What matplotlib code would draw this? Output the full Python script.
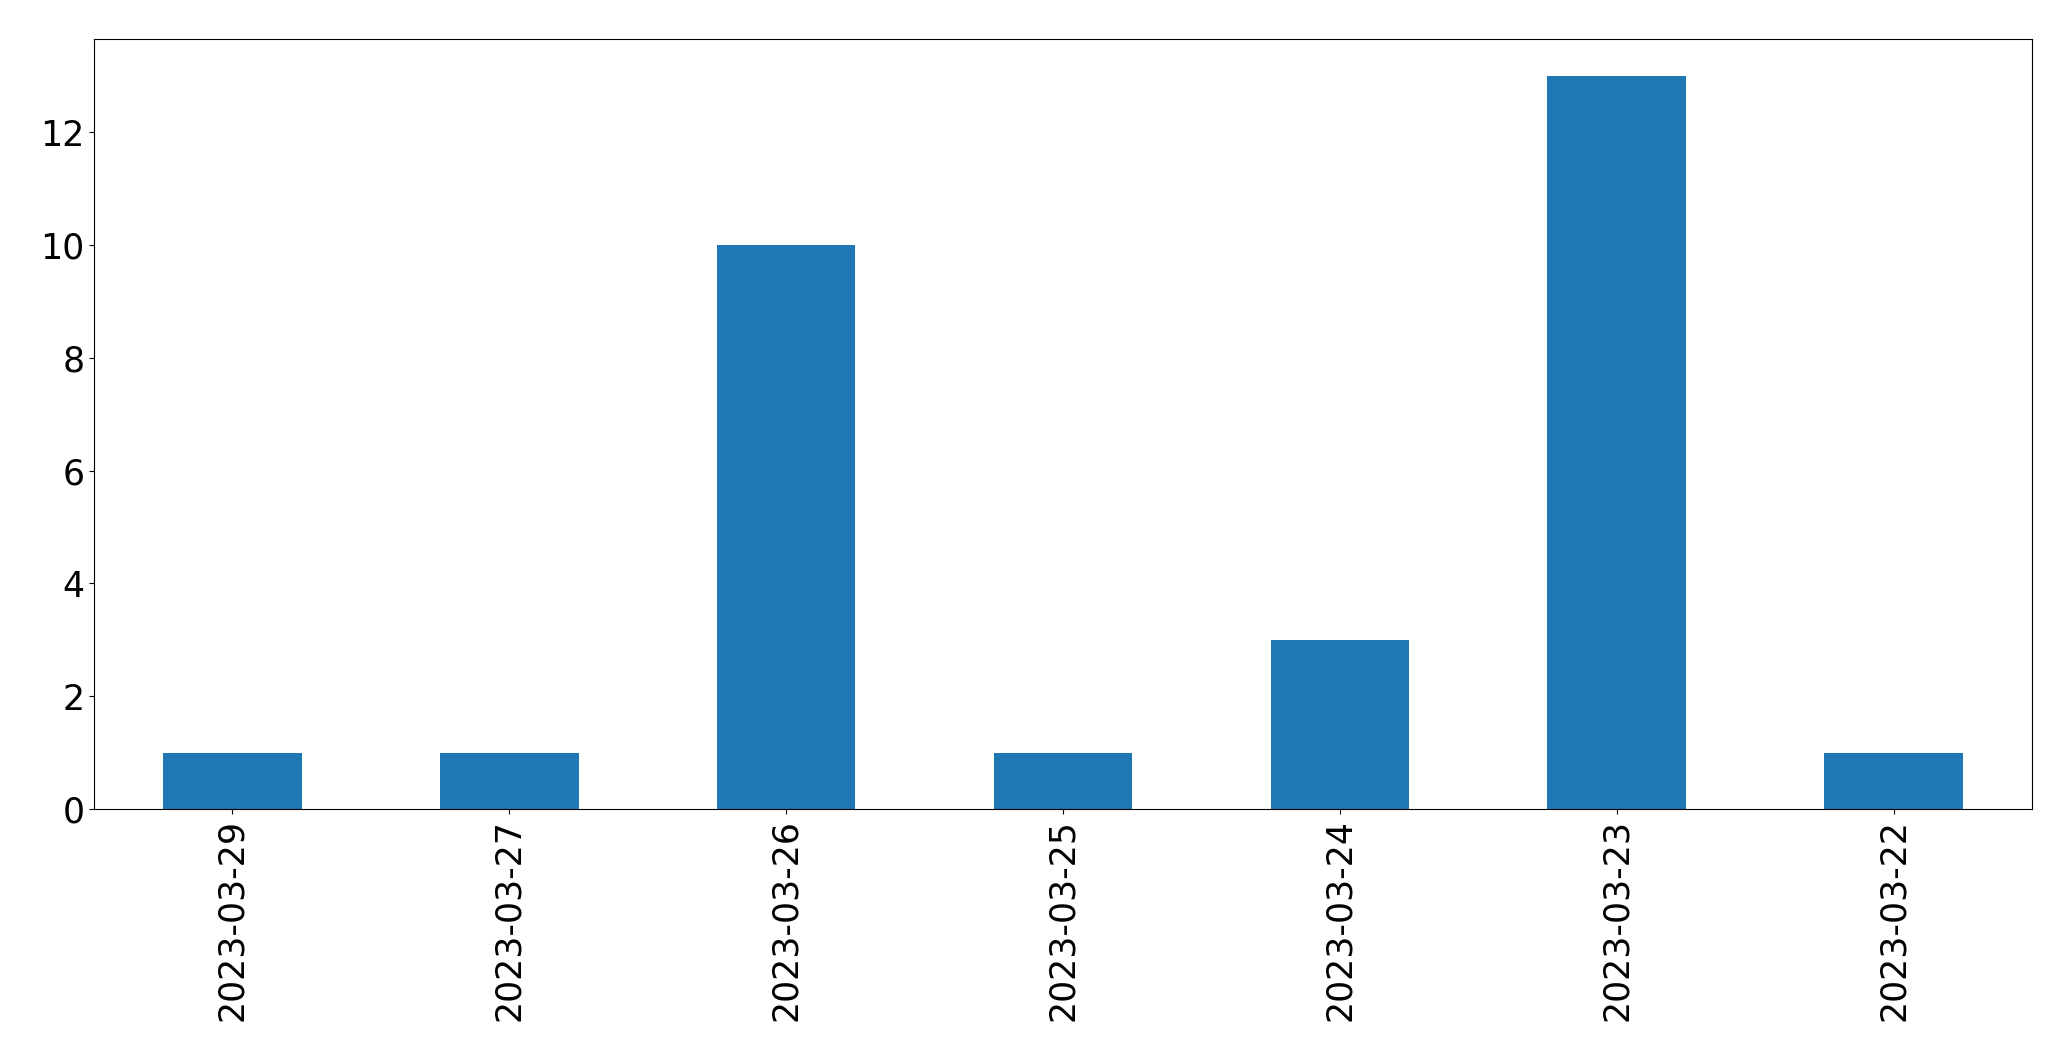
import matplotlib
matplotlib.use("Agg")
import matplotlib.pyplot as plt
import pandas as pd

# counts per day
dates = ["2023-03-29", "2023-03-27", "2023-03-26", "2023-03-25",
         "2023-03-24", "2023-03-23", "2023-03-22"]
counts = [1, 1, 10, 1, 3, 13, 1]


def main():
    """ Draw the per-day bar chart. """
    s = pd.Series(counts, index=dates)
    fig, ax = plt.subplots(figsize=(20.71, 10.61), dpi=100)
    s.plot(kind="bar", ax=ax, color="#1f77b4")
    ax.tick_params(axis="both", labelsize=25)
    fig.subplots_adjust(left=94 / 2071, right=2032 / 2071,
                        top=1 - 39 / 1061, bottom=1 - 809 / 1061)
    fig.savefig("out.png", dpi=100)


if __name__ == "__main__":
    main()
